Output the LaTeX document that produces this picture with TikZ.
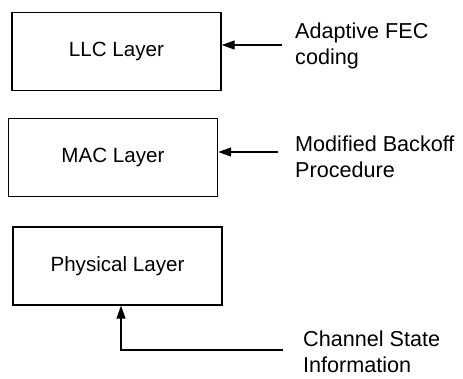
\documentclass[tikz,border=0pt]{standalone}
\usepackage{fontspec}
\setmainfont{Liberation Sans}
\usetikzlibrary{arrows.meta}

\begin{document}
\begin{tikzpicture}[x=1pt,y=-1pt,
  layerbox/.style={rectangle,draw=black,line width=1.4pt,minimum width=209pt,minimum height=78pt,inner sep=0pt,font=\fontsize{20.6}{27}\selectfont},
  sidetext/.style={align=left,inner sep=0pt,font=\fontsize{21.6}{26}\selectfont},
  feed/.style={line width=1.2pt,-{Triangle[length=13pt,width=9pt]}}]

\useasboundingbox (0,0) rectangle (463,378);

\node[layerbox] (llc) at (116.5,51.5) {LLC Layer};
\node[layerbox] (mac) at (113,157.5) {MAC Layer};
\node[layerbox] (phy) at (117.5,266) {Physical Layer};

% base is the baseline of the second line
\node[sidetext,anchor=base west] (fec) at (295,64) {Adaptive FEC\\coding};
\node[sidetext,anchor=base west] (backoff) at (295,177) {Modified Backoff\\Procedure};
\node[sidetext,anchor=base west] (csi) at (303,372) {Channel State\\Information};

\coordinate (fecin) at (282,45);
\coordinate (backoffin) at (278,152);
\coordinate (csiin) at (283,350);

\draw[feed] (fecin) -- (llc.east |- fecin);
\draw[feed] (backoffin) -- (mac.east |- backoffin);
\draw[feed] (csiin) -| ([xshift=3.5pt]phy.south);

\end{tikzpicture}
\end{document}
